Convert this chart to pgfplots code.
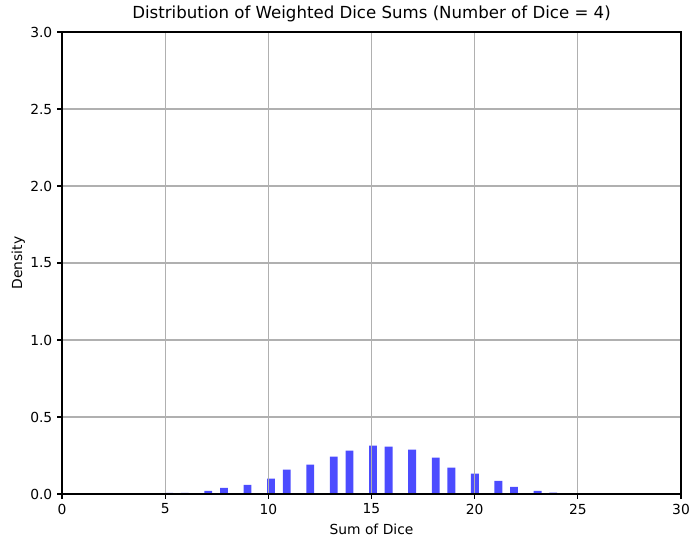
\documentclass[border=0pt]{standalone}
\usepackage{pgfplots}
\pgfplotsset{compat=1.18}
\usepackage{fontspec}
\setmainfont{DejaVu Sans}
\usetikzlibrary{calc}
\begin{document}
\begin{tikzpicture}
\begin{axis}[
  scale only axis,
  width=6.19in, height=4.62in,
  xmin=0, xmax=30, ymin=0, ymax=3,
  xtick={0,5,10,15,20,25,30},
  ytick={0,0.5,1,1.5,2,2.5,3},
  yticklabel style={/pgf/number format/.cd,fixed,fixed zerofill,precision=1},
  /pgf/number format/assume math mode=true,
  tick label style={font=\fontsize{10}{12}\selectfont},
  label style={font=\fontsize{10}{12}\selectfont},
  ylabel style={yshift=-3pt},
  title style={font=\fontsize{12}{14}\selectfont, yshift=-2pt},
  title={Distribution of Weighted Dice Sums (Number of Dice = 4)},
  xlabel={Sum of Dice}, ylabel={Density},
  grid=major,
  major grid style={draw=black!31, line width=0.8pt},
  tick align=outside,
  major tick length=3.5pt,
  tick style={black, line width=0.8pt},
  xtick pos=bottom, ytick pos=left,
  axis line style={line width=0.8pt},
  axis on top=true,
]
\path (rel axis cs:0,0) coordinate (o) (rel axis cs:1,1) coordinate (tr);
\addplot[ybar, bar width=0.38, fill=blue, fill opacity=0.7, draw=none] coordinates {
(5.19,0.008) (5.95,0.008) (7.09,0.020) (7.85,0.040) (8.99,0.060)
(10.13,0.100) (10.89,0.158) (12.03,0.190) (13.17,0.242) (13.93,0.281)
(15.07,0.314) (15.83,0.307) (16.97,0.288) (18.11,0.236) (18.87,0.171)
(20.01,0.132) (21.15,0.086) (21.91,0.047) (23.05,0.021) (23.81,0.009)
};
\end{axis}
\useasboundingbox ($(o)+(-0.62in,-0.53in)$) rectangle ($(tr)+(0.19in,0.32in)$);
\end{tikzpicture}
\end{document}
